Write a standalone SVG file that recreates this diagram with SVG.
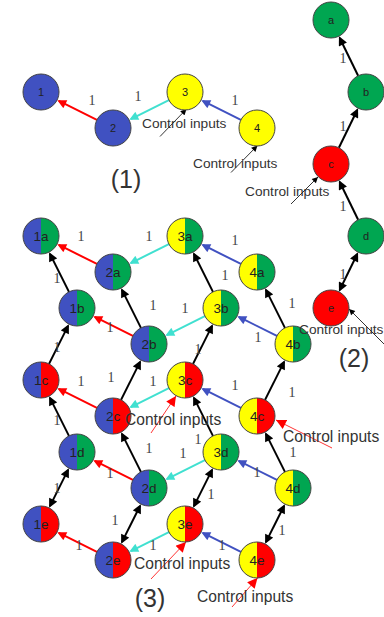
<svg xmlns="http://www.w3.org/2000/svg" width="384" height="617" viewBox="0 0 384 617">
<style>
.o{fill:none;stroke:#444;stroke-width:1}
.B{fill:#4051c1}.G{fill:#00a651}.R{fill:#ff0000}.Y{fill:#ffff00}
.nl{font-family:"Liberation Sans",Arial,sans-serif;font-size:13.5px;fill:#222;text-anchor:middle;dominant-baseline:central}
.ns{font-family:"Liberation Sans",Arial,sans-serif;font-size:11px;fill:#222;text-anchor:middle;dominant-baseline:central}
.el{font-family:"Liberation Serif","Times New Roman",serif;font-size:14px;fill:#444;text-anchor:middle;dominant-baseline:central}
.ci{font-family:"Liberation Sans",Arial,sans-serif;font-size:13.7px;fill:#333}
.ci3{font-family:"Liberation Sans",Arial,sans-serif;font-size:15.6px;fill:#333}
.pl{font-family:"Liberation Sans",Arial,sans-serif;font-size:25px;fill:#333;text-anchor:middle}
.ek{stroke:#000;stroke-width:2;fill:none;marker-end:url(#mk)}
.ed{stroke:#000;stroke-width:2;fill:none;marker-end:url(#mk);marker-start:url(#mk)}
.er{stroke:#ff0000;stroke-width:2;fill:none;marker-end:url(#mr)}
.et{stroke:#40e0d0;stroke-width:2;fill:none;marker-end:url(#mt)}
.eb{stroke:#4051c1;stroke-width:2;fill:none;marker-end:url(#mb)}
.ck{stroke:#000;stroke-width:0.8;fill:none;marker-end:url(#mck)}
.cr{stroke:#ff0000;stroke-width:0.8;fill:none;marker-end:url(#mcr)}
</style>
<defs>
<marker id="mk" viewBox="0 0 10 10" refX="8" refY="5" markerWidth="10" markerHeight="9" markerUnits="userSpaceOnUse" orient="auto-start-reverse"><path d="M0,0L10,5L0,10z" fill="#000"/></marker>
<marker id="mr" viewBox="0 0 10 10" refX="8" refY="5" markerWidth="10" markerHeight="9" markerUnits="userSpaceOnUse" orient="auto"><path d="M0,0L10,5L0,10z" fill="#ff0000"/></marker>
<marker id="mt" viewBox="0 0 10 10" refX="8" refY="5" markerWidth="10" markerHeight="9" markerUnits="userSpaceOnUse" orient="auto"><path d="M0,0L10,5L0,10z" fill="#40e0d0"/></marker>
<marker id="mb" viewBox="0 0 10 10" refX="8" refY="5" markerWidth="10" markerHeight="9" markerUnits="userSpaceOnUse" orient="auto"><path d="M0,0L10,5L0,10z" fill="#4051c1"/></marker>
<marker id="mck" viewBox="0 0 10 10" refX="10" refY="5" markerWidth="7" markerHeight="6" markerUnits="userSpaceOnUse" orient="auto"><path d="M0,0L10,5L0,10z" fill="#000"/></marker>
<marker id="mcr" viewBox="0 0 10 10" refX="10" refY="5" markerWidth="11" markerHeight="10" markerUnits="userSpaceOnUse" orient="auto"><path d="M0,0L10,5L0,10z" fill="#ff0000"/></marker>
</defs>

<g id="connectors">
<!-- (1) -->
<line class="er" x1="96.9" y1="119.95" x2="58.89" y2="100.94"/>
<line class="et" x1="168.9" y1="100.05" x2="130.89" y2="119.06"/>
<line class="eb" x1="240.9" y1="119.95" x2="202.89" y2="100.94"/>
<!-- (2) -->
<line class="ek" x1="358.13" y1="75.81" x2="339.74" y2="37.99"/>
<line class="ek" x1="338.87" y1="147.81" x2="357.26" y2="109.99"/>
<line class="ek" x1="358.13" y1="219.81" x2="339.74" y2="181.99"/>
<line class="ed" x1="357.26" y1="253.99" x2="339.74" y2="290.01"/>
<!-- (3) rows -->
<line class="er" x1="96.9" y1="263.95" x2="58.89" y2="244.94"/>
<line class="et" x1="168.9" y1="244.05" x2="130.89" y2="263.06"/>
<line class="eb" x1="240.9" y1="263.95" x2="202.89" y2="244.94"/>
<line class="er" x1="132.9" y1="335.95" x2="94.89" y2="316.94"/>
<line class="et" x1="204.9" y1="316.05" x2="166.89" y2="335.06"/>
<line class="eb" x1="276.9" y1="335.95" x2="238.89" y2="316.94"/>
<line class="er" x1="96.9" y1="407.95" x2="58.89" y2="388.94"/>
<line class="et" x1="168.9" y1="388.05" x2="130.89" y2="407.06"/>
<line class="eb" x1="240.9" y1="407.95" x2="202.89" y2="388.94"/>
<line class="er" x1="132.9" y1="479.95" x2="94.89" y2="460.94"/>
<line class="et" x1="204.9" y1="460.05" x2="166.89" y2="479.06"/>
<line class="eb" x1="276.9" y1="479.95" x2="238.89" y2="460.94"/>
<line class="er" x1="96.9" y1="551.95" x2="58.89" y2="532.94"/>
<line class="et" x1="168.9" y1="532.05" x2="130.89" y2="551.06"/>
<line class="eb" x1="240.9" y1="551.95" x2="202.89" y2="532.94"/>
<!-- (3) columns -->
<line class="ek" x1="68.95" y1="291.9" x2="49.94" y2="253.89"/>
<line class="ek" x1="49.05" y1="363.9" x2="68.06" y2="325.89"/>
<line class="ek" x1="68.95" y1="435.9" x2="49.94" y2="397.89"/>
<line class="ed" x1="68.06" y1="469.89" x2="49.94" y2="506.11"/>
<line class="ek" x1="140.95" y1="327.9" x2="121.94" y2="289.89"/>
<line class="ek" x1="121.05" y1="399.9" x2="140.06" y2="361.89"/>
<line class="ek" x1="140.95" y1="471.9" x2="121.94" y2="433.89"/>
<line class="ed" x1="140.06" y1="505.89" x2="121.94" y2="542.11"/>
<line class="ek" x1="212.95" y1="291.9" x2="193.94" y2="253.89"/>
<line class="ek" x1="193.05" y1="363.9" x2="212.06" y2="325.89"/>
<line class="ek" x1="212.95" y1="435.9" x2="193.94" y2="397.89"/>
<line class="ed" x1="212.06" y1="469.89" x2="193.94" y2="506.11"/>
<line class="ek" x1="284.95" y1="327.9" x2="265.94" y2="289.89"/>
<line class="ek" x1="265.05" y1="399.9" x2="284.06" y2="361.89"/>
<line class="ek" x1="284.95" y1="471.9" x2="265.94" y2="433.89"/>
<line class="ed" x1="284.06" y1="505.89" x2="265.94" y2="542.11"/>
<!-- control inputs arrows -->
<line class="ck" x1="160" y1="136.5" x2="186.5" y2="109"/>
<line class="ck" x1="231" y1="172.5" x2="257.5" y2="145.5"/>
<line class="ck" x1="291" y1="204" x2="318" y2="177"/>
<line class="ck" x1="384" y1="344" x2="349" y2="309"/>
<line class="cr" x1="151" y1="433" x2="176" y2="396"/>
<line class="cr" x1="332" y1="448" x2="276" y2="420"/>
<line class="cr" x1="151" y1="579" x2="186" y2="542"/>
<line class="cr" x1="232" y1="607" x2="257.5" y2="578"/>
<!-- edge labels -->
<text class="el" x="92" y="100">1</text>
<text class="el" x="138" y="96">1</text>
<text class="el" x="235" y="100">1</text>
<text class="el" x="343" y="58">1</text>
<text class="el" x="343" y="126">1</text>
<text class="el" x="343" y="206">1</text>
<text class="el" x="343" y="274">1</text>
<text class="el" x="81" y="236">1</text>
<text class="el" x="149" y="236">1</text>
<text class="el" x="235" y="240">1</text>
<text class="el" x="57" y="278">1</text>
<text class="el" x="153" y="305">1</text>
<text class="el" x="225" y="275">1</text>
<text class="el" x="292" y="303">1</text>
<text class="el" x="110" y="327">1</text>
<text class="el" x="185" y="308">1</text>
<text class="el" x="258" y="337">1</text>
<text class="el" x="57" y="347">1</text>
<text class="el" x="111" y="377">1</text>
<text class="el" x="198" y="349">1</text>
<text class="el" x="292" y="392">1</text>
<text class="el" x="81" y="381">1</text>
<text class="el" x="153" y="381">1</text>
<text class="el" x="235" y="385">1</text>
<text class="el" x="57" y="420">1</text>
<text class="el" x="149" y="448">1</text>
<text class="el" x="198" y="439">1</text>
<text class="el" x="293" y="452">1</text>
<text class="el" x="110" y="473">1</text>
<text class="el" x="183" y="453">1</text>
<text class="el" x="257" y="472">1</text>
<text class="el" x="57" y="488">1</text>
<text class="el" x="115" y="520">1</text>
<text class="el" x="211" y="494">1</text>
<text class="el" x="282" y="530">1</text>
<text class="el" x="79" y="545">1</text>
<text class="el" x="153" y="545">1</text>
<text class="el" x="222" y="545">1</text>
</g>

<!-- part (1) nodes -->
<g id="n1" transform="translate(41,92)"><circle r="18" class="B"/><circle r="18" class="o"/><text class="ns">1</text></g>
<g id="n2" transform="translate(113,128)"><circle r="18" class="B"/><circle r="18" class="o"/><text class="ns">2</text></g>
<g id="n3" transform="translate(185,92)"><circle r="18" class="Y"/><circle r="18" class="o"/><text class="ns">3</text></g>
<g id="n4" transform="translate(257,128)"><circle r="18" class="Y"/><circle r="18" class="o"/><text class="ns">4</text></g>

<!-- part (2) nodes -->
<g id="na" transform="translate(331,20)"><circle r="18" class="G"/><circle r="18" class="o"/><text class="ns">a</text></g>
<g id="nb" transform="translate(366,92)"><circle r="18" class="G"/><circle r="18" class="o"/><text class="ns">b</text></g>
<g id="nc" transform="translate(331,164)"><circle r="18" class="R"/><circle r="18" class="o"/><text class="ns">c</text></g>
<g id="nd" transform="translate(366,236)"><circle r="18" class="G"/><circle r="18" class="o"/><text class="ns">d</text></g>
<g id="ne" transform="translate(331,308)"><circle r="18" class="R"/><circle r="18" class="o"/><text class="ns">e</text></g>

<!-- part (3) nodes -->
<g id="n1a" transform="translate(41,236)"><path class="B" d="M0,-18A18,18 0 0 0 0,18Z"/><path class="G" d="M0,-18A18,18 0 0 1 0,18Z"/><circle r="18" class="o"/><text class="nl">1a</text></g>
<g id="n2a" transform="translate(113,272)"><path class="B" d="M0,-18A18,18 0 0 0 0,18Z"/><path class="G" d="M0,-18A18,18 0 0 1 0,18Z"/><circle r="18" class="o"/><text class="nl">2a</text></g>
<g id="n3a" transform="translate(185,236)"><path class="Y" d="M0,-18A18,18 0 0 0 0,18Z"/><path class="G" d="M0,-18A18,18 0 0 1 0,18Z"/><circle r="18" class="o"/><text class="nl">3a</text></g>
<g id="n4a" transform="translate(257,272)"><path class="Y" d="M0,-18A18,18 0 0 0 0,18Z"/><path class="G" d="M0,-18A18,18 0 0 1 0,18Z"/><circle r="18" class="o"/><text class="nl">4a</text></g>

<g id="n1b" transform="translate(77,308)"><path class="B" d="M0,-18A18,18 0 0 0 0,18Z"/><path class="G" d="M0,-18A18,18 0 0 1 0,18Z"/><circle r="18" class="o"/><text class="nl">1b</text></g>
<g id="n2b" transform="translate(149,344)"><path class="B" d="M0,-18A18,18 0 0 0 0,18Z"/><path class="G" d="M0,-18A18,18 0 0 1 0,18Z"/><circle r="18" class="o"/><text class="nl">2b</text></g>
<g id="n3b" transform="translate(221,308)"><path class="Y" d="M0,-18A18,18 0 0 0 0,18Z"/><path class="G" d="M0,-18A18,18 0 0 1 0,18Z"/><circle r="18" class="o"/><text class="nl">3b</text></g>
<g id="n4b" transform="translate(293,344)"><path class="Y" d="M0,-18A18,18 0 0 0 0,18Z"/><path class="G" d="M0,-18A18,18 0 0 1 0,18Z"/><circle r="18" class="o"/><text class="nl">4b</text></g>

<g id="n1c" transform="translate(41,380)"><path class="B" d="M0,-18A18,18 0 0 0 0,18Z"/><path class="R" d="M0,-18A18,18 0 0 1 0,18Z"/><circle r="18" class="o"/><text class="nl">1c</text></g>
<g id="n2c" transform="translate(113,416)"><path class="B" d="M0,-18A18,18 0 0 0 0,18Z"/><path class="R" d="M0,-18A18,18 0 0 1 0,18Z"/><circle r="18" class="o"/><text class="nl">2c</text></g>
<g id="n3c" transform="translate(185,380)"><path class="Y" d="M0,-18A18,18 0 0 0 0,18Z"/><path class="R" d="M0,-18A18,18 0 0 1 0,18Z"/><circle r="18" class="o"/><text class="nl">3c</text></g>
<g id="n4c" transform="translate(257,416)"><path class="Y" d="M0,-18A18,18 0 0 0 0,18Z"/><path class="R" d="M0,-18A18,18 0 0 1 0,18Z"/><circle r="18" class="o"/><text class="nl">4c</text></g>

<g id="n1d" transform="translate(77,452)"><path class="B" d="M0,-18A18,18 0 0 0 0,18Z"/><path class="G" d="M0,-18A18,18 0 0 1 0,18Z"/><circle r="18" class="o"/><text class="nl">1d</text></g>
<g id="n2d" transform="translate(149,488)"><path class="B" d="M0,-18A18,18 0 0 0 0,18Z"/><path class="G" d="M0,-18A18,18 0 0 1 0,18Z"/><circle r="18" class="o"/><text class="nl">2d</text></g>
<g id="n3d" transform="translate(221,452)"><path class="Y" d="M0,-18A18,18 0 0 0 0,18Z"/><path class="G" d="M0,-18A18,18 0 0 1 0,18Z"/><circle r="18" class="o"/><text class="nl">3d</text></g>
<g id="n4d" transform="translate(293,488)"><path class="Y" d="M0,-18A18,18 0 0 0 0,18Z"/><path class="G" d="M0,-18A18,18 0 0 1 0,18Z"/><circle r="18" class="o"/><text class="nl">4d</text></g>

<g id="n1e" transform="translate(41,524)"><path class="B" d="M0,-18A18,18 0 0 0 0,18Z"/><path class="R" d="M0,-18A18,18 0 0 1 0,18Z"/><circle r="18" class="o"/><text class="nl">1e</text></g>
<g id="n2e" transform="translate(113,560)"><path class="B" d="M0,-18A18,18 0 0 0 0,18Z"/><path class="R" d="M0,-18A18,18 0 0 1 0,18Z"/><circle r="18" class="o"/><text class="nl">2e</text></g>
<g id="n3e" transform="translate(185,524)"><path class="Y" d="M0,-18A18,18 0 0 0 0,18Z"/><path class="R" d="M0,-18A18,18 0 0 1 0,18Z"/><circle r="18" class="o"/><text class="nl">3e</text></g>
<g id="n4e" transform="translate(257,560)"><path class="Y" d="M0,-18A18,18 0 0 0 0,18Z"/><path class="R" d="M0,-18A18,18 0 0 1 0,18Z"/><circle r="18" class="o"/><text class="nl">4e</text></g>

<!-- control input labels -->
<g id="labels">
<text class="ci" x="142" y="128">Control inputs</text>
<text class="ci" x="193" y="168">Control inputs</text>
<text class="ci" x="245" y="196">Control inputs</text>
<text class="ci" x="299" y="334" font-size="13.4">Control inputs</text>
<text class="ci3" x="125" y="425">Control inputs</text>
<text class="ci3" x="283" y="442">Control inputs</text>
<text class="ci3" x="134" y="569">Control inputs</text>
<text class="ci3" x="197" y="602">Control inputs</text>
<text class="pl" x="126" y="188">(1)</text>
<text class="pl" x="354" y="367">(2)</text>
<text class="pl" x="150" y="607">(3)</text>
</g>
</svg>
